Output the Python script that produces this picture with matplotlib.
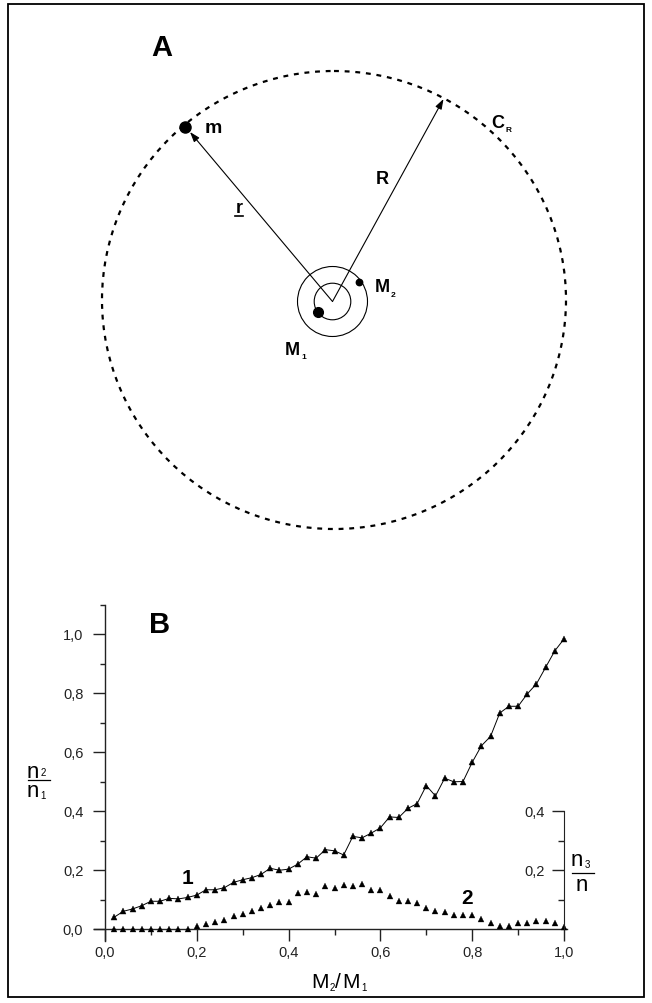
import numpy as np
import matplotlib
matplotlib.use("Agg")
import matplotlib.pyplot as plt
from matplotlib.patches import Ellipse, Circle, Rectangle
from matplotlib.ticker import FuncFormatter, MultipleLocator

plt.rcParams['font.family'] = ['Liberation Sans', 'DejaVu Sans']

# ---- panel B data ----
mass_ratio = np.round(np.arange(1, 51) * 0.02, 2)  # M2/M1 = 0.02 .. 1.00

n2_over_n1 = [0.040, 0.060, 0.068, 0.079, 0.094, 0.094, 0.104, 0.102, 0.107, 0.115,
              0.133, 0.133, 0.140, 0.158, 0.167, 0.174, 0.185, 0.206, 0.199, 0.203,
              0.220, 0.245, 0.240, 0.269, 0.265, 0.251, 0.314, 0.309, 0.325, 0.343,
              0.380, 0.378, 0.409, 0.425, 0.486, 0.451, 0.511, 0.499, 0.500, 0.565,
              0.621, 0.653, 0.732, 0.755, 0.755, 0.797, 0.831, 0.887, 0.943, 0.983]

n3_over_n = [0.0, 0.0, 0.0, 0.0, 0.0, 0.0, 0.0, 0.0, 0.0, 0.011,
             0.017, 0.023, 0.032, 0.045, 0.050, 0.062, 0.071, 0.081, 0.093, 0.093,
             0.121, 0.124, 0.119, 0.147, 0.138, 0.150, 0.147, 0.153, 0.133, 0.131,
             0.111, 0.094, 0.094, 0.088, 0.072, 0.062, 0.059, 0.046, 0.046, 0.046,
             0.034, 0.020, 0.009, 0.009, 0.020, 0.020, 0.028, 0.026, 0.020, 0.006]

left_ticks = [0.0, 0.2, 0.4, 0.6, 0.8, 1.0]
right_ticks = [0.2, 0.4]
x_ticks = [0.0, 0.2, 0.4, 0.6, 0.8, 1.0]

# ---- panel A geometry (pixels) ----
W, H = 652, 1004
orbit_center = (332.5, 302.5)
outer_orbit_r = 35.0
inner_orbit_r = 18.3
cr_center = (334.0, 301.0)
cr_size = (464.0, 458.0)
m_pos = (185.0, 128.0)
m1_pos = (318.0, 313.0)
m2_pos = (359.0, 282.5)
r_tip = (190.0, 133.0)
R_tip = (443.5, 100.0)

fig = plt.figure(figsize=(W / 100, H / 100), dpi=100)

# full-figure pixel axes for the diagram and frame
axA = fig.add_axes([0, 0, 1, 1])
axA.set_xlim(0, W)
axA.set_ylim(H, 0)
axA.axis('off')

axA.add_patch(Rectangle((8, 5), 636, 993, fill=False, lw=1.3, color='black'))

axA.add_patch(Ellipse(cr_center, cr_size[0], cr_size[1], fill=False, lw=1.6,
                      color='black', linestyle=(0, (2.2, 2.6))))
axA.add_patch(Circle(orbit_center, outer_orbit_r, fill=False, lw=0.8, color='black'))
axA.add_patch(Circle(orbit_center, inner_orbit_r, fill=False, lw=0.8, color='black'))

arrow_kw = dict(arrowstyle='-|>,head_length=0.5,head_width=0.17', lw=0.8,
                color='black', shrinkA=0, shrinkB=0, mutation_scale=12)
axA.annotate('', xy=r_tip, xytext=orbit_center, arrowprops=arrow_kw)
axA.annotate('', xy=R_tip, xytext=orbit_center, arrowprops=arrow_kw)

axA.plot(*m_pos, 'o', color='black', ms=8)
axA.plot(*m1_pos, 'o', color='black', ms=7)
axA.plot(*m2_pos, 'o', color='black', ms=4.6)

bold = dict(fontweight='bold', color='black')
axA.text(151, 56.5, 'A', fontsize=21, ha='left', va='baseline', **bold)
axA.text(205, 133, 'm', fontsize=14, ha='left', va='baseline', **bold)
axA.text(491, 128, 'C', fontsize=13, ha='left', va='baseline', **bold)
axA.text(505, 131.5, 'R', fontsize=6, ha='left', va='baseline', **bold)
axA.text(376, 183.5, 'R', fontsize=13, ha='left', va='baseline', **bold)
axA.text(235.5, 213, 'r', fontsize=13, ha='left', va='baseline', **bold)
axA.plot([235, 242.5], [216.5, 216.5], color='black', lw=1.2)
axA.text(375, 292.5, 'M', fontsize=13, ha='left', va='baseline', **bold)
axA.text(391, 297, '2', fontsize=6, ha='left', va='baseline', **bold)
axA.text(285, 355, 'M', fontsize=13, ha='left', va='baseline', **bold)
axA.text(301, 359, '1', fontsize=6, ha='left', va='baseline', **bold)

axA.text(149, 633, 'B', fontsize=21, ha='left', va='baseline', **bold)

# y-label fraction n2/n1
axA.text(27, 778, 'n', fontsize=16, ha='left', va='baseline')
axA.text(40.5, 776, '2', fontsize=7, ha='left', va='baseline')
axA.plot([28, 50], [780.5, 780.5], color='black', lw=0.9)
axA.text(27, 797, 'n', fontsize=16, ha='left', va='baseline')
axA.text(40.5, 799, '1', fontsize=7, ha='left', va='baseline')

# right label fraction n3/n
axA.text(571, 866, 'n', fontsize=16, ha='left', va='baseline')
axA.text(584.5, 868, '3', fontsize=7, ha='left', va='baseline')
axA.plot([572, 594], [874, 874], color='black', lw=0.9)
axA.text(576, 891, 'n', fontsize=16, ha='left', va='baseline')

# x-label M2/M1
axA.text(311, 988.5, 'M', fontsize=15, ha='left', va='baseline')
axA.text(330, 991.5, '2', fontsize=7, ha='left', va='baseline')
axA.text(335, 988.5, '/', fontsize=15, ha='left', va='baseline')
axA.text(342, 988.5, 'M', fontsize=15, ha='left', va='baseline')
axA.text(361, 991.5, '1', fontsize=7, ha='left', va='baseline')

# ---- panel B axes placed in pixels ----
X0_PX, X1_PX = 105.0, 564.0
Y0_PX, Y1_PX = 930.0, 635.0
xlim = (-0.03, 1.03)
ylim = (-0.05, 1.12)
sx = X1_PX - X0_PX
sy = Y0_PX - Y1_PX
left_px = X0_PX + xlim[0] * sx
right_px = X0_PX + xlim[1] * sx
bottom_px = Y0_PX - ylim[0] * sy
top_px = Y0_PX - ylim[1] * sy
rect = [left_px / W, 1 - bottom_px / H, (right_px - left_px) / W, (bottom_px - top_px) / H]

comma = FuncFormatter(lambda v, p: f"{v:.1f}".replace('.', ','))
axis_col = '#222222'

ax = fig.add_axes(rect)
ax.patch.set_visible(False)
ax.set_xlim(*xlim)
ax.set_ylim(*ylim)
for s in ['top', 'right']:
    ax.spines[s].set_visible(False)
ax.spines['left'].set_position(('data', 0))
ax.spines['left'].set_bounds(-0.04, 1.1)
ax.spines['bottom'].set_position(('data', 0))
ax.spines['bottom'].set_bounds(-0.025, 1.006)
for s in ['left', 'bottom']:
    ax.spines[s].set_color(axis_col)
    ax.spines[s].set_linewidth(1.0)

ax.set_xticks(x_ticks)
ax.xaxis.set_minor_locator(MultipleLocator(0.1))
ax.set_yticks(left_ticks)
ax.yaxis.set_minor_locator(MultipleLocator(0.1))
ax.xaxis.set_major_formatter(comma)
ax.yaxis.set_major_formatter(comma)
ax.tick_params(axis='both', which='major', length=8.6, width=1.0, color=axis_col,
               labelsize=10.5, labelcolor='#222222')
ax.tick_params(axis='x', which='minor', length=4.3, width=1.0, color=axis_col)
ax.tick_params(axis='y', which='minor', length=3.6, width=1.0, color=axis_col)
ax.tick_params(axis='x', which='major', pad=3)
ax.tick_params(axis='y', which='major', pad=7)

ax.plot(mass_ratio, n2_over_n1, '-', color='black', lw=0.7, marker='^', ms=4.0,
        mec='black', mew=0.3, clip_on=False, zorder=3)
ax.plot(mass_ratio, n3_over_n, linestyle='none', color='black', marker='^', ms=4.7,
        mec='black', mew=0.2, clip_on=False, zorder=3)

ax.text(0.179, 0.173, '1', fontsize=15, fontweight='bold', ha='center', va='center')
ax.text(0.788, 0.108, '2', fontsize=15, fontweight='bold', ha='center', va='center')

# right axis for n3/n drawn at M2/M1 = 1
ax2 = fig.add_axes(rect)
ax2.patch.set_visible(False)
ax2.set_xlim(*xlim)
ax2.set_ylim(*ylim)
for s in ['top', 'right', 'bottom']:
    ax2.spines[s].set_visible(False)
ax2.spines['left'].set_position(('data', 1.0))
ax2.spines['left'].set_bounds(0, 0.4)
ax2.spines['left'].set_color(axis_col)
ax2.xaxis.set_visible(False)
ax2.set_yticks(right_ticks)
ax2.set_yticks([0.1, 0.3], minor=True)
ax2.yaxis.set_major_formatter(comma)
ax2.tick_params(axis='y', which='major', length=8.6, width=1.0, color=axis_col,
                labelsize=10.5, labelcolor='#222222', pad=5)
ax2.tick_params(axis='y', which='minor', length=4.3, width=1.0, color=axis_col)

fig.savefig('out.png', dpi=100)
